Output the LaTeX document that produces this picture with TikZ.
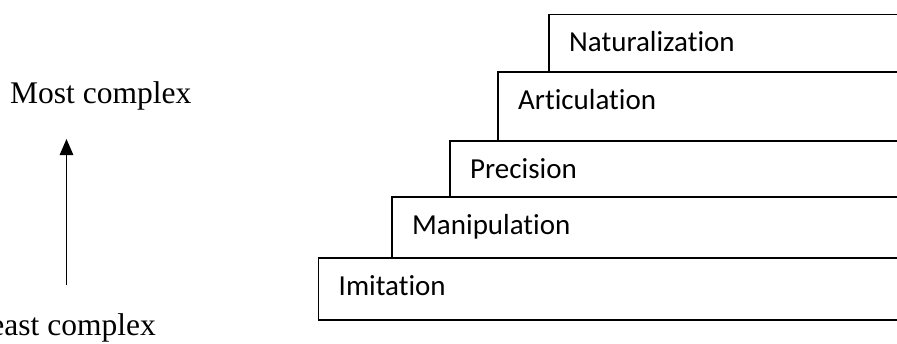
\documentclass[tikz,border=0pt]{standalone}
\usepackage{fontspec}
\setmainfont{Liberation Serif}
\newfontfamily\carlito[RawFeature={-liga}]{Carlito}
\usetikzlibrary{arrows.meta,positioning}

\tikzset{
    stepbox/.style={draw, line width=1.8pt, rectangle, inner sep=0pt, anchor=north west},
    steplabel/.style={font=\carlito\fontsize{29}{34}\selectfont, inner sep=0pt, anchor=base west},
    sidelabel/.style={font=\fontsize{31.5}{37}\selectfont, inner sep=0pt, anchor=base west}
}

\begin{document}
\begin{tikzpicture}[x=1pt,y=-1pt]
    \useasboundingbox (0,0) rectangle (897,343);
    \clip (0,0) rectangle (897,343);

    % Steps, from the bottom up (they run on past the right edge)
    \foreach \name/\lx/\ty/\h/\txt in {
        imitation/317.5/257/62/Imitation,
        manipulation/391/196/61/Manipulation,
        precision/449/140/56/Precision,
        articulation/497/71/69/Articulation,
        naturalization/548/13.5/57.5/Naturalization} {
        \node[stepbox, minimum width={(930-\lx)*1pt}, minimum height=\h pt] (\name) at (\lx,\ty) {};
        \node[steplabel] (\name-txt) at ([shift={(21,38)}]\name.north west) {\txt};
    }

    % Complexity arrow
    \node[sidelabel] (most) at (10,103) {Most complex};
    \node[sidelabel] (least) at (-29,335) {Least complex};
    \coordinate (arrowfoot) at (66.5,285);
    \coordinate (arrowtip) at (66.5,139);
    \draw[line width=1.3pt, -{Triangle[length=16pt,width=13.5pt]}] (arrowfoot) -- (arrowtip);
\end{tikzpicture}
\end{document}
